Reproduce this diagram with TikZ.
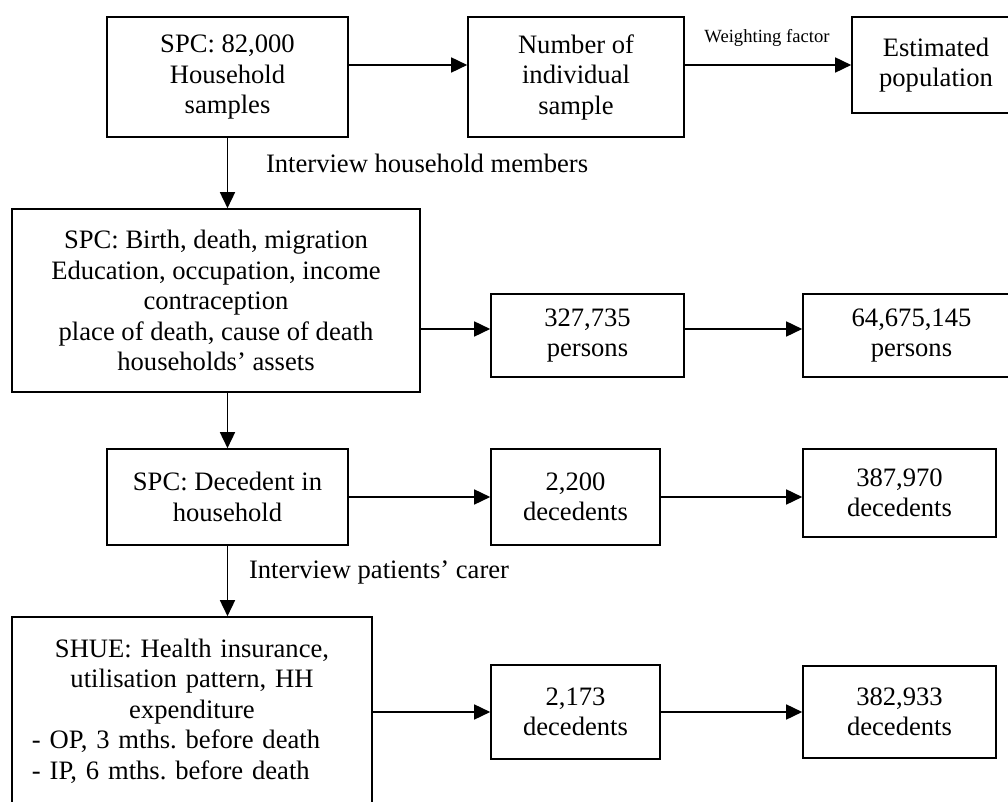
\documentclass[tikz,border=0pt]{standalone}
\usepackage{fontspec}
\setmainfont{Liberation Serif}
\usetikzlibrary{arrows.meta}
\frenchspacing

\begin{document}
\begin{tikzpicture}[x=0.5pt,y=-0.5pt,font=\fontsize{13.3}{15.25}\selectfont,
  frame/.style={draw,thick,rectangle,inner sep=2pt},
  box/.style={frame,align=center},
  arr/.style={-{Triangle[length=8pt,width=7.5pt]},thick}]
\useasboundingbox (0,0) rectangle (1008,802);
\clip (0,0) rectangle (1008,802);

\node[box,minimum width=120.5pt,minimum height=60pt] (A) at (227.5,77) {SPC: 82,000\\Household\\samples};
\node[box,minimum width=108pt,minimum height=60pt] (B) at (576,77) {Number of\\individual\\sample};
\node[box,minimum width=84pt,minimum height=48pt] (C) at (936,65) {Estimated\\population};

\node[box,minimum width=204pt,minimum height=91.5pt] (D) at (216,300.5) {SPC: Birth, death, migration\\Education, occupation, income\\contraception\\place of death, cause of death\\households' assets};
\node[box,minimum width=96.5pt,minimum height=41.5pt] (E) at (587.5,335.5) {327,735\\persons};
\node[box,minimum width=108.5pt,minimum height=41.5pt] (F) at (911.5,335.5) {64,675,145\\persons};

\node[box,minimum width=120.5pt,minimum height=48pt] (G) at (227.5,497) {SPC: Decedent in\\household};
\node[box,minimum width=84.5pt,minimum height=48pt] (H) at (575.5,497) {2,200\\decedents};
\node[box,minimum width=96.5pt,minimum height=44pt] (I) at (899.5,493) {387,970\\decedents};

\node[frame,inner xsep=10pt,text width=160pt,minimum height=112pt] (J) at (192,729) {{\centering SHUE: Health insurance,\\utilisation pattern, HH\\expenditure\par}\raggedright - OP, 3 mths.\ before death\\- IP, 6 mths.\ before death\\\strut};
\node[box,minimum width=84.5pt,minimum height=47pt] (K) at (575.5,712) {2,173\\decedents};
\node[box,minimum width=96.5pt,minimum height=46pt] (L) at (899.5,712) {382,933\\decedents};

% labels
\node[anchor=west] (intmem) at (259,163) {Interview household members};
\node[anchor=west] (intcarer) at (242,572) {Interview patients' carer};
\node[font=\fontsize{9.3}{11}\selectfont] (wfac) at (767,38) {Weighting factor};

\path[arr] (A.east |- C) edge (B.west |- C);
\path[arr] (B.east |- C) edge (C.west);
\path[arr] (A.south) edge (A.south |- D.north);

\path[arr] ([yshift=3.25pt]E.west -| D.east) edge ([yshift=3.25pt]E.west);
\path[arr] ([yshift=3.25pt]E.east) edge ([yshift=3.25pt]F.west);
\path[arr] (D.south -| G.north) edge (G.north);

\path[arr] (G.east) edge (H.west);
\path[arr] (H.east) edge (H.east -| I.west);
\path[arr] (G.south) edge (G.south |- J.north);

\path[arr] (J.east |- K.west) edge (K.west);
\path[arr] (K.east) edge (L.west);

\end{tikzpicture}
\end{document}
